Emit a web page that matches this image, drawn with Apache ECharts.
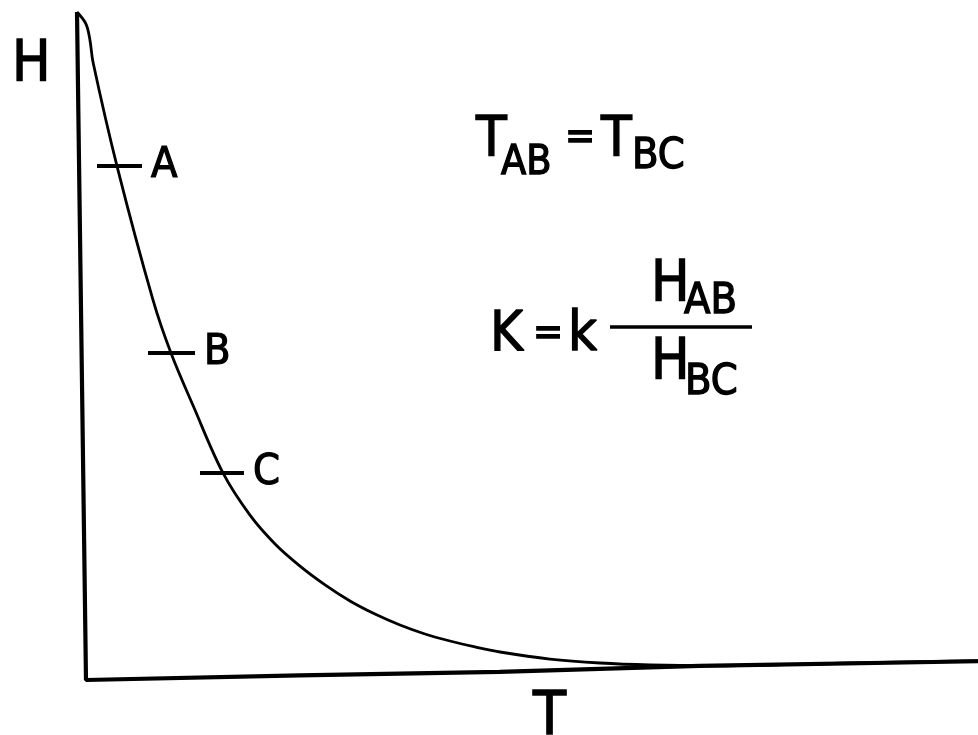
<!DOCTYPE html>
<html>
<head>
<meta charset="utf-8">
<script src="https://cdn.jsdelivr.net/npm/echarts@6/dist/echarts.min.js"></script>
<style>
  html, body { margin: 0; padding: 0; background: #fff; }
  #chart { width: 978px; height: 735px; }
</style>
</head>
<body>
<div id="chart"></div>
<script>
// Decay curve H(T): height falls steeply, then flattens out toward the T axis.
const curveT = [0, 0.100, 0.144, 0.178, 0.444, 0.844, 1.043, 1.287, 1.620, 1.920, 2.198, 2.475, 2.753, 3.030, 3.307, 3.585, 3.862, 4.140, 4.417, 4.695, 5.250, 5.805, 6.360, 7.026, 8.5, 10];
const curveH = [9.97, 9.79, 9.55, 9.22, 7.67, 5.67, 4.88, 4.10, 3.09, 2.46, 2.03, 1.70, 1.42, 1.18, 0.985, 0.821, 0.687, 0.582, 0.493, 0.418, 0.313, 0.254, 0.224, 0.212, 0.25, 0.29];

// Hand-drawn frame: H axis (left) and T axis (bottom), slightly askew.
const frameT = [0, 0.10, 2.47, 4.69, 6.91, 10];
const frameH = [9.97, 0, 0.07, 0.12, 0.21, 0.28];

// Reading marks A, B, C on the curve (equal T spacing).
const markNames = ['A', 'B', 'C'];
const markH = [7.67, 4.88, 3.09];
const markT0 = [0.222, 0.788, 1.365];
const markT1 = [0.721, 1.31, 1.853];

const FONT = "'Liberation Sans Narrow', 'DejaVu Sans Condensed', 'Liberation Sans', sans-serif";

const zip = (a, b) => a.map((v, i) => [v, b[i]]);

const markSeries = markNames.map((name, i) => ({
  type: 'line',
  name: name,
  data: [[markT0[i], markH[i]], [markT1[i], markH[i]]],
  showSymbol: false,
  clip: false,
  lineStyle: { color: '#000', width: 4 },
  endLabel: {
    show: true,
    formatter: name,
    distance: 9,
    color: '#000',
    textBorderColor: '#000',
    textBorderWidth: 1.2,
    fontFamily: FONT,
    fontSize: 43
  },
  z: 4
}));

function txt(text, x, y, size) {
  return {
    type: 'text',
    style: {
      text: text, x: x, y: y,
      font: size + 'px ' + FONT,
      fill: '#000',
      stroke: '#000',
      lineWidth: 1.3,
      textAlign: 'left',
      textVerticalAlign: 'middle'
    }
  };
}

const chart = echarts.init(document.getElementById('chart'), null, { renderer: 'canvas' });
chart.setOption({
  animation: false,
  backgroundColor: '#fff',
  grid: { left: 77, right: 0, top: 10, bottom: 55 },
  xAxis: { type: 'value', min: 0, max: 10, show: false },
  yAxis: { type: 'value', min: 0, max: 10, show: false },
  series: [
    {
      type: 'line',
      name: 'axes',
      data: zip(frameT, frameH),
      showSymbol: false,
      clip: false,
      lineStyle: { color: '#000', width: 4.2 },
      z: 2
    },
    {
      type: 'line',
      name: 'H(T)',
      data: zip(curveT, curveH),
      showSymbol: false,
      smooth: 0.35,
      clip: false,
      lineStyle: { color: '#000', width: 2.8 },
      z: 3
    },
    ...markSeries
  ],
  graphic: [
    // axis names
    txt('H', 12, 66, 57),
    txt('T', 533, 718, 60),
    // T_AB = T_BC
    txt('T', 476, 140, 56),
    txt('AB', 501, 163, 41),
    txt('=', 565, 139, 40),
    txt('T', 601, 140, 56),
    txt('BC', 632, 157, 43),
    // K = k H_AB / H_BC
    txt('K', 490, 335, 56),
    txt('=', 533, 335, 40),
    txt('k', 568, 335, 56),
    txt('H', 651, 286, 57),
    txt('AB', 684, 302, 43),
    {
      type: 'line',
      shape: { x1: 610, y1: 327, x2: 752, y2: 327 },
      style: { stroke: '#000', lineWidth: 3.5 }
    },
    txt('H', 651, 364, 57),
    txt('BC', 685, 383, 43)
  ]
});
</script>
</body>
</html>
